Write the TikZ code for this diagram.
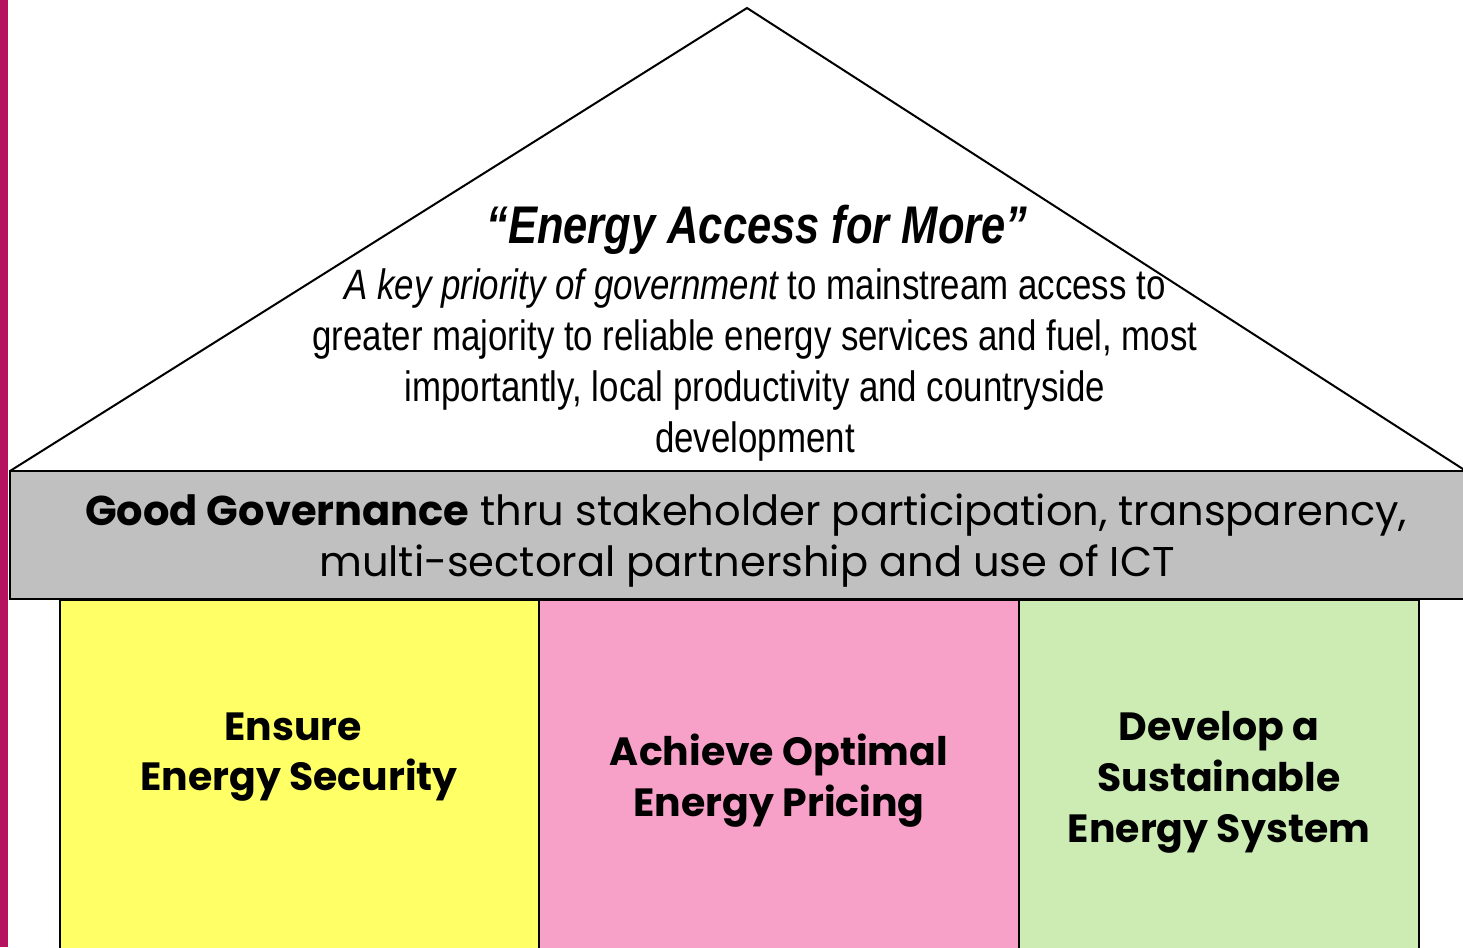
\documentclass[tikz,border=0pt]{standalone}
\usepackage{fontspec}
\setmainfont{Liberation Sans}
\newfontfamily\narrowfont[FakeStretch=0.82]{Liberation Sans}
\newfontfamily\gothic{Poppins}
\definecolor{strip}{HTML}{B5125F}
\definecolor{bandgrey}{HTML}{C0C0C0}
\definecolor{pyellow}{HTML}{FFFF66}
\definecolor{ppink}{HTML}{F7A1C9}
\definecolor{pgreen}{HTML}{CCECB4}
\tikzset{
  roof/.style={draw=black, line width=2pt, fill=white, line join=miter},
  band/.style={draw=black, line width=1.5pt, fill=bandgrey},
  pillar/.style={draw=black, line width=1.5pt},
  rooftitle/.style={anchor=base, inner sep=0pt, font=\narrowfont\bfseries\itshape\fontsize{53}{60}\selectfont},
  rooftext/.style={anchor=base, inner sep=0pt, font=\narrowfont\fontsize{42.5}{51}\selectfont},
  bandtext/.style={anchor=base, inner sep=0pt, font=\gothic\fontsize{41.6}{51}\selectfont},
  pillartext/.style={anchor=base, inner sep=0pt, font=\gothic\bfseries\fontsize{39.4}{51}\selectfont},
}
\begin{document}
\begin{tikzpicture}[x=1pt,y=-1pt]
\useasboundingbox (0,0) rectangle (1463,947);
\fill[white] (0,0) rectangle (1463,947);
\fill[strip] (0,0) rectangle (8,947);
% roof
\coordinate (apex) at (747,8);
\coordinate (bl) at (10,471);
\coordinate (br) at (1466,471);
\draw[roof] (bl) -- (apex) -- (br);
% pillars
\path[pillar, fill=pyellow] (60,600) rectangle (539,950);
\path[pillar, fill=ppink] (539,600) rectangle (1019,950);
\path[pillar, fill=pgreen] (1019,600) rectangle (1419,950);
% band
\path[band] (10,471) rectangle (1470,599);
% roof text
\node[rooftitle] (t0) at (757,243) {“Energy Access for More”};
\node[rooftext] (t1) at (755,299) {\itshape A key priority of government\upshape{} to mainstream access to};
\node[rooftext] (t2) at (755,350) {greater majority to reliable energy services and fuel, most};
\node[rooftext] (t3) at (755,401) {importantly, local productivity and countryside};
\node[rooftext] (t4) at (755,452) {development};
% band text
\node[bandtext] (b1) at (746,525) {\bfseries Good Governance\mdseries{} thru stakeholder participation, transparency,};
\node[bandtext] (b2) at (747,576) {multi-sectoral partnership and use of ICT};
% pillar text
\node[pillartext] (y1) at (293,740) {Ensure};
\node[pillartext] (y2) at (299,790) {Energy Security};
\node[pillartext] (p1) at (779,765) {Achieve Optimal};
\node[pillartext] (p2) at (779,816) {Energy Pricing};
\node[pillartext] (g1) at (1219,740) {Develop a};
\node[pillartext] (g2) at (1219,791) {Sustainable};
\node[pillartext] (g3) at (1219,842) {Energy System};
\end{tikzpicture}
\end{document}
